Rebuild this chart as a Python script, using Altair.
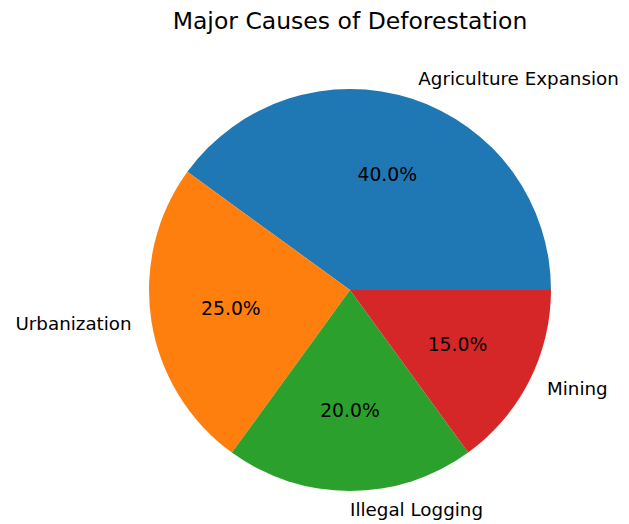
import math
import altair as alt
import pandas as pd

title_text = "Major Causes of Deforestation"
categories = ["Agriculture Expansion", "Urbanization", "Illegal Logging", "Mining"]
values = [40, 25, 20, 15]
colors = ["#1f77b4", "#ff7f0e", "#2ca02c", "#d62728"]
# matplotlib draws counter-clockwise from 3 o'clock; Vega draws clockwise from 12
draw_order = [4, 3, 2, 1]

df = pd.DataFrame({"cat": categories, "value": values, "ord": draw_order})
df["pct"] = [f"{v / sum(values) * 100:.1f}%" for v in values]

CX, CY, R = 342, 282, 201
FS = 18.3
theta_scale = alt.Scale(domain=[0, 100], range=[math.pi / 2, math.pi / 2 + 2 * math.pi])
color_scale = alt.Scale(domain=categories, range=colors)

base = alt.Chart(df).transform_window(
    cum="sum(value)", sort=[alt.SortField("ord")], frame=[None, 0]
).transform_calculate(
    mid="datum.cum - datum.value / 2"
)

arcs = base.mark_arc(radius=R, stroke=None).encode(
    theta=alt.Theta("value:Q", stack=True, scale=theta_scale),
    order=alt.Order("ord:Q"),
    color=alt.Color("cat:N", scale=color_scale, legend=None),
    x=alt.value(CX),
    y=alt.value(CY),
)

pct = base.mark_text(fontSize=18.8, font="DejaVu Sans", color="#000000",
                     align="center", baseline="middle").encode(
    theta=alt.Theta("mid:Q", stack=None, scale=theta_scale),
    radius=alt.value(R * 0.6),
    text="pct:N",
    x=alt.value(CX),
    y=alt.value(CY),
)

# matplotlib: label is left-aligned on the right half, right-aligned on the left half
left_labels = base.transform_filter("datum.cat != 'Urbanization'").mark_text(
    fontSize=FS, font="DejaVu Sans", color="#000000", align="left", baseline="middle"
).encode(
    theta=alt.Theta("mid:Q", stack=None, scale=theta_scale),
    radius=alt.value(R * 1.1),
    text="cat:N",
    x=alt.value(CX),
    y=alt.value(CY),
)
right_labels = base.transform_filter("datum.cat == 'Urbanization'").mark_text(
    fontSize=FS, font="DejaVu Sans", color="#000000", align="right", baseline="middle"
).encode(
    theta=alt.Theta("mid:Q", stack=None, scale=theta_scale),
    radius=alt.value(R * 1.1),
    text="cat:N",
    x=alt.value(CX),
    y=alt.value(CY),
)

title = alt.Chart(pd.DataFrame({"t": [title_text]})).mark_text(
    fontSize=23.5, font="DejaVu Sans", color="#000000", align="center", baseline="middle"
).encode(
    text="t:N",
    x=alt.value(CX),
    y=alt.value(14),
)

chart = alt.layer(arcs, pct, left_labels, right_labels, title).properties(
    width=613,
    height=516,
    autosize=alt.AutoSizeParams(type="none"),
    padding=0,
).configure_view(stroke=None)

chart.save("out.html", embed_options={"renderer": "svg", "actions": False})
